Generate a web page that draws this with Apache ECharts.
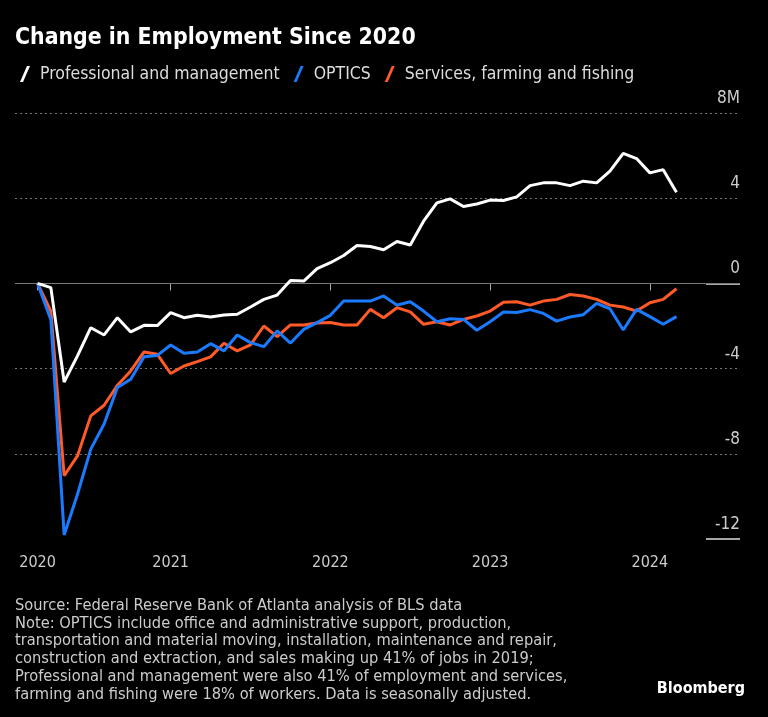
<!DOCTYPE html>
<html>
<head>
<meta charset="utf-8">
<script src="https://cdn.jsdelivr.net/npm/echarts@6/dist/echarts.min.js"></script>
<style>
html,body{margin:0;padding:0;background:#000;}
#chart{width:768px;height:717px;}
</style>
</head>
<body>
<div id="chart"></div>
<script>
const months = ['2020-02','2020-03','2020-04','2020-05','2020-06','2020-07','2020-08','2020-09','2020-10','2020-11','2020-12',
  '2021-01','2021-02','2021-03','2021-04','2021-05','2021-06','2021-07','2021-08','2021-09','2021-10','2021-11','2021-12',
  '2022-01','2022-02','2022-03','2022-04','2022-05','2022-06','2022-07','2022-08','2022-09','2022-10','2022-11','2022-12',
  '2023-01','2023-02','2023-03','2023-04','2023-05','2023-06','2023-07','2023-08','2023-09','2023-10','2023-11','2023-12',
  '2024-01','2024-02'];
const professional = [0, -0.2, -4.63, -3.4, -2.08, -2.42, -1.61, -2.28, -1.97, -1.98, -1.37, -1.61, -1.5,
  -1.58, -1.48, -1.45, -1.11, -0.75, -0.55, 0.14, 0.11, 0.69, 0.97, 1.31, 1.78,
  1.73, 1.58, 1.97, 1.8, 2.92, 3.78, 3.97, 3.61, 3.73, 3.91, 3.89, 4.06,
  4.59, 4.72, 4.72, 4.59, 4.8, 4.72, 5.27, 6.1, 5.86, 5.19, 5.34, 4.28];
const optics = [0, -1.7, -11.81, -9.9, -7.78, -6.6, -4.89, -4.5, -3.44, -3.38, -2.89, -3.28, -3.22,
  -2.83, -3.17, -2.42, -2.78, -2.97, -2.23, -2.8, -2.16, -1.84, -1.5, -0.83, -0.83,
  -0.83, -0.59, -1.02, -0.86, -1.3, -1.8, -1.66, -1.69, -2.2, -1.8, -1.34, -1.37,
  -1.23, -1.41, -1.77, -1.58, -1.47, -0.94, -1.19, -2.19, -1.22, -1.56, -1.92, -1.56];
const services = [0, -1.3, -9.03, -8.1, -6.22, -5.72, -4.78, -4.11, -3.22, -3.33, -4.23, -3.88, -3.67,
  -3.45, -2.81, -3.17, -2.89, -2.0, -2.5, -1.95, -1.95, -1.86, -1.84, -1.95, -1.95,
  -1.22, -1.61, -1.14, -1.34, -1.92, -1.8, -1.95, -1.69, -1.53, -1.3, -0.88, -0.86,
  -1.02, -0.83, -0.75, -0.52, -0.59, -0.75, -1.02, -1.11, -1.3, -0.91, -0.75, -0.25];
const yearTicks = [2021, 2022, 2023, 2024];
const yTicks = {min: -12, max: 8, interval: 4};
const accentTicks = [0, -12];
const seriesNames = ['Professional and management', 'OPTICS', 'Services, farming and fishing'];
const colors = ['#ffffff', '#1a7bff', '#ff5a28'];
const footer = [
  'Source: Federal Reserve Bank of Atlanta analysis of BLS data',
  'Note: OPTICS include office and administrative support, production,',
  'transportation and material moving, installation, maintenance and repair,',
  'construction and extraction, and sales making up 41% of jobs in 2019;',
  'Professional and management were also 41% of employment and services,',
  'farming and fishing were 18% of workers. Data is seasonally adjusted.'
];

function toX(m){ const p = m.split('-'); return +p[0] + (+p[1])/12; }
const xs = months.map(toX);
const firstX = xs[0];
const pxPerYear = 159.5;
const xMin = firstX - 22.5 / pxPerYear;
const xMax = 2024 + 90 / pxPerYear;
const pairs = arr => arr.map((v, i) => [xs[i], v]);

const FONT = "'DejaVu Sans Condensed', 'Liberation Sans Narrow', sans-serif";
const chart = echarts.init(document.getElementById('chart'));
const slash = 'path://M7,0 L10,0 L3,16 L0,16 Z';

chart.setOption({
  backgroundColor: '#000',
  animation: false,
  title: {
    text: 'Change in Employment Since 2020',
    left: 10, top: 22,
    textStyle: {color: '#fff', fontSize: 22.8, fontWeight: 'bold', fontFamily: FONT}
  },
  legend: {
    left: 15, top: 60,
    itemWidth: 10, itemHeight: 16, itemGap: 14,
    data: seriesNames.map((n, i) => ({name: n, icon: slash, itemStyle: {color: colors[i]}})),
    textStyle: {color: '#dddddd', fontSize: 17.5, fontFamily: FONT, padding: [0, 0, 0, 5]}
  },
  grid: {left: 15, right: 28, top: 113, bottom: 178, containLabel: false},
  xAxis: {
    type: 'value', min: xMin, max: xMax,
    offset: 4,
    splitLine: {show: false},
    axisLine: {show: false},
    axisTick: {show: true, length: 7, customValues: [firstX].concat(yearTicks), lineStyle: {color: '#aaaaaa', width: 1}},
    axisLabel: {customValues: [firstX].concat(yearTicks), margin: 12, color: '#cccccc', fontSize: 16, fontFamily: FONT,
      formatter: v => String(Math.floor(v + 1e-6))}
  },
  yAxis: [{
    type: 'value', position: 'right', min: yTicks.min, max: yTicks.max, interval: yTicks.interval,
    axisLine: {show: false},
    axisTick: {show: false},
    splitLine: {show: true, showMinLine: false, lineStyle: {color: '#777777', type: [2, 3], width: 1}},
    axisLabel: {inside: true, margin: 0, color: '#cccccc', fontSize: 17, fontFamily: FONT,
      verticalAlign: 'bottom', padding: [0, 0, 6, 0],
      formatter: v => v === yTicks.max ? v + 'M' : String(v)}
  }, {
    type: 'value', position: 'right', min: yTicks.min, max: yTicks.max, interval: yTicks.interval,
    axisLine: {show: false},
    splitLine: {show: false},
    axisLabel: {show: false},
    axisTick: {show: true, inside: true, length: 34, customValues: accentTicks, lineStyle: {color: '#dddddd', width: 1.5}}
  }],
  series: [
    {name: seriesNames[0], type: 'line', data: pairs(professional), showSymbol: false, z: 5,
      lineStyle: {color: colors[0], width: 3}, itemStyle: {color: colors[0]},
      markLine: {silent: true, symbol: 'none', label: {show: false}, lineStyle: {color: '#777777', type: 'solid', width: 1.2}, data: [{yAxis: 0}], z: 1}},
    {name: seriesNames[1], type: 'line', data: pairs(optics), showSymbol: false, z: 4,
      lineStyle: {color: colors[1], width: 3}, itemStyle: {color: colors[1]}},
    {name: seriesNames[2], type: 'line', data: pairs(services), showSymbol: false, z: 3,
      lineStyle: {color: colors[2], width: 3}, itemStyle: {color: colors[2]}}
  ],
  graphic: [
    {type: 'text', left: 15, top: 597, style: {text: footer.join('\n'), fill: '#cccccc', font: '16.3px ' + FONT, lineHeight: 17.7}},
    {type: 'text', right: 23, top: 681, style: {text: 'Bloomberg', fill: '#ffffff', font: 'bold 16px ' + FONT}}
  ]
});
</script>
</body>
</html>
